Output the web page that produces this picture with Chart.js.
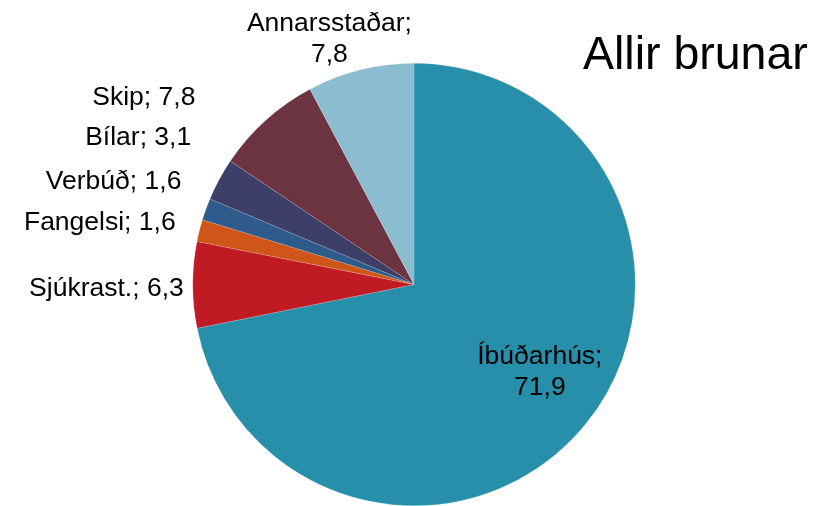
<!DOCTYPE html>
<html>
<head>
<meta charset="utf-8">
<title>Allir brunar</title>
<script src="https://cdn.jsdelivr.net/npm/chart.js@4"></script>
<style>
    html, body { margin: 0; padding: 0; background: #fff; }
    #wrap { width: 824px; height: 506px; position: relative; }
</style>
</head>
<body>
<div id="wrap"><canvas id="pie"></canvas></div>
<script>
// Datos del gráfico
const categorias = ['Íbúðarhús', 'Sjúkrast.', 'Fangelsi', 'Verbúð', 'Bílar', 'Skip', 'Annarsstaðar'];
const valores = [71.9, 6.3, 1.6, 1.6, 3.1, 7.8, 7.8];
const colores = ['#288fab', '#c01b25', '#d05518', '#2f5a8c', '#3d3f69', '#6c3440', '#8bbcd0'];
const titulo = 'Allir brunar';

// Ajustes de posición de cada etiqueta (solo maquetación)
const ajustes = [
    { dentro: true, dx: 6, dy: -10, lineas: 2 },
    { dx: -1, dy: 4 },
    { dx: -16, dy: -6 },
    { dx: -17, dy: -25 },
    { dx: -21, dy: -38 },
    { dx: -65, dy: -17 },
    { dx: -29, dy: -7, lineas: 2, centrado: true }
];

const fmt = v => v.toFixed(1).replace('.', ',');

// Plugin para dibujar etiquetas y título
const etiquetas = {
    id: 'etiquetas',
    afterDatasetsDraw(chart) {
        const ctx = chart.ctx;
        const arcs = chart.getDatasetMeta(0).data;
        ctx.save();
        ctx.fillStyle = '#000';
        ctx.font = '26.5px "Liberation Sans", Arial, sans-serif';
        ctx.textBaseline = 'middle';
        arcs.forEach((arc, i) => {
            const a = ajustes[i];
            const mid = (arc.startAngle + arc.endAngle) / 2;
            const r = a.dentro ? arc.outerRadius * 0.7 : arc.outerRadius + 8;
            const x = arc.x + Math.cos(mid) * r + a.dx;
            const y = arc.y + Math.sin(mid) * r + a.dy;
            const txt1 = categorias[i] + ';';
            const txt2 = fmt(valores[i]);
            if (a.lineas === 2) {
                ctx.textAlign = 'center';
                if (a.dentro) {
                    ctx.fillText(txt1, x, y - 15.5);
                    ctx.fillText(txt2, x, y + 15.5);
                } else {
                    ctx.fillText(txt1, x, y - 31);
                    ctx.fillText(txt2, x, y);
                }
            } else {
                ctx.textAlign = 'right';
                ctx.fillText(txt1 + ' ' + txt2, x, y);
            }
        });
        // Título
        ctx.font = '46.5px "Liberation Sans", Arial, sans-serif';
        ctx.textAlign = 'left';
        ctx.textBaseline = 'alphabetic';
        ctx.fillText(titulo, 583, 69);
        ctx.restore();
    }
};

new Chart(document.getElementById('pie'), {
    type: 'pie',
    data: {
        labels: categorias,
        datasets: [{
            data: valores,
            backgroundColor: colores,
            borderColor: 'rgba(255,255,255,0.3)',
            borderWidth: 0.5
        }]
    },
    options: {
        responsive: true,
        maintainAspectRatio: false,
        animation: false,
        layout: { padding: { top: 63, bottom: -1, left: 192, right: 188 } },
        plugins: {
            legend: { display: false },
            tooltip: { enabled: false }
        }
    },
    plugins: [etiquetas]
});
</script>
</body>
</html>
